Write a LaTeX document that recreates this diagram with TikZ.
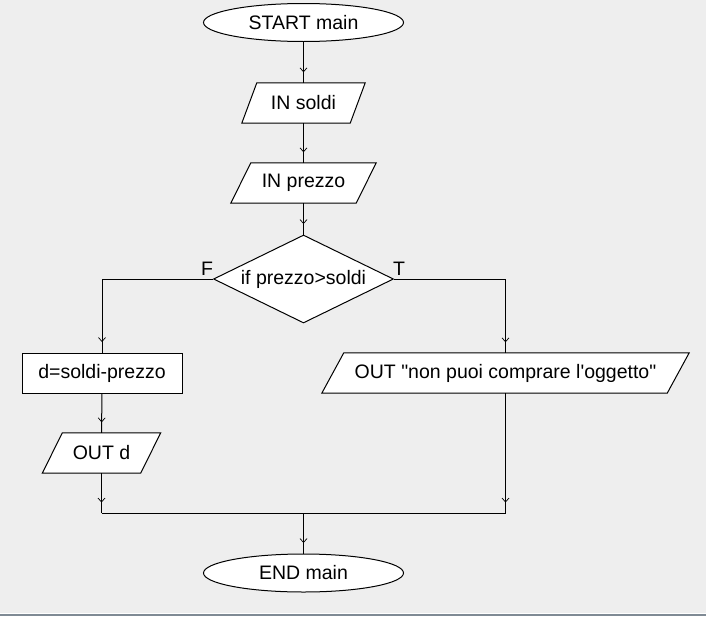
\documentclass[tikz,border=0pt]{standalone}
\usepackage{fontspec}
\setmainfont{Liberation Sans}
\usetikzlibrary{shapes.geometric,backgrounds,decorations.markings}
\definecolor{bggray}{HTML}{EEEEEE}
\definecolor{edgegray}{HTML}{7F8A94}
\tikzset{
  every node/.style={font=\fontsize{19.5}{22}\selectfont, text=black},
  term/.style={ellipse, draw=black, fill=white, line width=1pt, minimum width=200pt, minimum height=38pt, inner sep=0pt},
  procbox/.style={rectangle, draw=black, fill=white, line width=1pt, minimum height=40pt, inner sep=0pt},
  iobox/.style={rectangle, draw=none, minimum height=40pt, inner sep=0pt},
  decbox/.style={diamond, draw=black, fill=white, line width=1pt, minimum width=180pt, minimum height=88pt, inner sep=0pt},
  flow/.style={draw=black, line width=1pt},
  chev/.style={postaction={decorate}, decoration={markings, mark=at position -11pt with {\draw[black, line width=0.7pt] (-4pt,-3.5pt) -- (0pt,0pt) -- (-4pt,3.5pt);}}},
  brlabel/.style={inner sep=0pt, font=\fontsize{19.5}{22}\selectfont}
}
\newcommand{\parallelbox}[2]{% node name, slant
  \fill[white] ([xshift=-#2/2]#1.south west) -- ([xshift=-#2/2]#1.south east) -- ([xshift=#2/2]#1.north east) -- ([xshift=#2/2]#1.north west) -- cycle;
  \draw[black, line width=1pt] ([xshift=-#2/2]#1.south west) -- ([xshift=-#2/2]#1.south east) -- ([xshift=#2/2]#1.north east) -- ([xshift=#2/2]#1.north west) -- cycle;
}
\begin{document}
\begin{tikzpicture}[x=1pt, y=-1pt]
\useasboundingbox (0,0) rectangle (706,616);
\begin{scope}[on background layer]
  \fill[bggray] (0,0) rectangle (706,616);
  \fill[white] (0,612.5) rectangle (706,613.6);
  \fill[edgegray] (0,613.6) rectangle (706,616);
\end{scope}

% nodes
\node[term] (start) at (303.5,22.5) {START main};
\node[iobox, minimum width=108pt] (insoldi) at (303.5,103) {IN soldi};
\node[iobox, minimum width=125pt] (inprezzo) at (303.5,183) {IN prezzo};
\node[decbox] (dec) at (303.5,279) {\makebox[0pt]{if prezzo>soldi}};
\node[brlabel] (lblF) at (207,269) {F};
\node[brlabel] (lblT) at (399,269) {T};
\node[procbox, minimum width=160pt] (calc) at (102,373) {d=soldi-prezzo};
\node[iobox, minimum width=98pt] (outd) at (101.5,453) {OUT d};
\node[iobox, minimum width=345pt] (outmsg) at (505.5,373) {OUT \textquotedbl non puoi comprare l\textquotesingle oggetto\textquotedbl};
\node[term] (end) at (303.5,573) {END main};

\coordinate (mL) at (101.5,513);
\coordinate (mR) at (505.5,513);
\coordinate (mC) at (303.5,513);

\begin{scope}[on background layer]
  \parallelbox{insoldi}{15pt}
  \parallelbox{inprezzo}{20pt}
  \parallelbox{outd}{20pt}
  \parallelbox{outmsg}{22pt}
\end{scope}

% connectors
\draw[flow, chev] (start.south) -- (insoldi.north);
\draw[flow, chev] (insoldi.south) -- (inprezzo.north);
\draw[flow, chev] (inprezzo.south) -- (dec.north);
\draw[flow, chev] (dec.west) -| (calc.north);
\draw[flow, chev] (dec.east) -| (outmsg.north);
\draw[flow, chev] (calc.south) -- (outd.north);
\draw[flow, chev] (outd.south) -- (mL);
\draw[flow, chev] (outmsg.south) -- (mR);
\draw[flow] (mL) -- (mR);
\draw[flow, chev] (mC) -- (end.north);
\end{tikzpicture}
\end{document}
